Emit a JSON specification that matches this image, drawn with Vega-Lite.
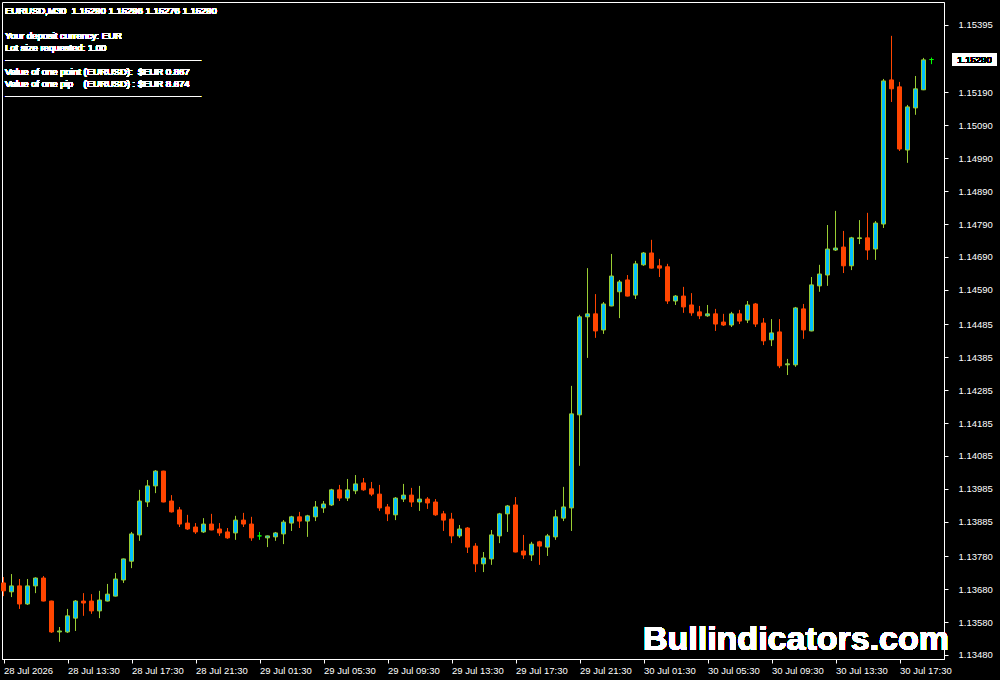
{
  "$schema": "https://vega.github.io/schema/vega-lite/v6.json",
  "width": 942,
  "height": 657,
  "autosize": {"type": "none"},
  "padding": {"left": 2, "top": 2, "right": 56, "bottom": 21},
  "background": "black",
  "config": {
    "view": {"stroke": "white", "strokeWidth": 1},
    "axis": {
      "domainColor": "white", "tickColor": "white", "labelColor": "white",
      "labelFont": "Liberation Sans", "labelFontSize": 9.5, "grid": false,
      "tickSize": 4, "domainWidth": 1, "tickWidth": 1, "title": null,
      "labelOverlap": false
    }
  },
  "data": {"values": [
    {"t":"2026-07-28T09:30Z","o":1.13699,"h":1.13717,"l":1.13659,"c":1.13675},
    {"t":"2026-07-28T10:00Z","o":1.13672,"h":1.13726,"l":1.13656,"c":1.13690},
    {"t":"2026-07-28T10:30Z","o":1.13690,"h":1.13711,"l":1.13620,"c":1.13635},
    {"t":"2026-07-28T11:00Z","o":1.13635,"h":1.13711,"l":1.13632,"c":1.13690},
    {"t":"2026-07-28T11:30Z","o":1.13690,"h":1.13716,"l":1.13668,"c":1.13714},
    {"t":"2026-07-28T12:00Z","o":1.13714,"h":1.13720,"l":1.13643,"c":1.13644},
    {"t":"2026-07-28T12:30Z","o":1.13644,"h":1.13645,"l":1.13547,"c":1.13550},
    {"t":"2026-07-28T13:00Z","o":1.13550,"h":1.13565,"l":1.13520,"c":1.13553},
    {"t":"2026-07-28T13:30Z","o":1.13550,"h":1.13620,"l":1.13547,"c":1.13599},
    {"t":"2026-07-28T14:00Z","o":1.13592,"h":1.13647,"l":1.13553,"c":1.13644},
    {"t":"2026-07-28T14:30Z","o":1.13644,"h":1.13668,"l":1.13599,"c":1.13638},
    {"t":"2026-07-28T15:00Z","o":1.13644,"h":1.13665,"l":1.13605,"c":1.13614},
    {"t":"2026-07-28T15:30Z","o":1.13614,"h":1.13675,"l":1.13592,"c":1.13647},
    {"t":"2026-07-28T16:00Z","o":1.13644,"h":1.13696,"l":1.13643,"c":1.13665},
    {"t":"2026-07-28T16:30Z","o":1.13659,"h":1.13729,"l":1.13658,"c":1.13711},
    {"t":"2026-07-28T17:00Z","o":1.13708,"h":1.13773,"l":1.13699,"c":1.13772},
    {"t":"2026-07-28T17:30Z","o":1.13765,"h":1.13854,"l":1.13744,"c":1.13848},
    {"t":"2026-07-28T18:00Z","o":1.13845,"h":1.13982,"l":1.13827,"c":1.13948},
    {"t":"2026-07-28T18:30Z","o":1.13945,"h":1.14012,"l":1.13930,"c":1.13994},
    {"t":"2026-07-28T19:00Z","o":1.13994,"h":1.14042,"l":1.13972,"c":1.14039},
    {"t":"2026-07-28T19:30Z","o":1.14039,"h":1.14040,"l":1.13944,"c":1.13945},
    {"t":"2026-07-28T20:00Z","o":1.13948,"h":1.13966,"l":1.13913,"c":1.13915},
    {"t":"2026-07-28T20:30Z","o":1.13921,"h":1.13930,"l":1.13869,"c":1.13878},
    {"t":"2026-07-28T21:00Z","o":1.13881,"h":1.13906,"l":1.13860,"c":1.13863},
    {"t":"2026-07-28T21:30Z","o":1.13869,"h":1.13881,"l":1.13848,"c":1.13854},
    {"t":"2026-07-28T22:00Z","o":1.13854,"h":1.13896,"l":1.13851,"c":1.13878},
    {"t":"2026-07-28T22:30Z","o":1.13878,"h":1.13909,"l":1.13859,"c":1.13860},
    {"t":"2026-07-28T23:00Z","o":1.13863,"h":1.13881,"l":1.13842,"c":1.13851},
    {"t":"2026-07-28T23:30Z","o":1.13854,"h":1.13866,"l":1.13833,"c":1.13836},
    {"t":"2026-07-29T00:00Z","o":1.13851,"h":1.13903,"l":1.13830,"c":1.13890},
    {"t":"2026-07-29T00:30Z","o":1.13890,"h":1.13912,"l":1.13869,"c":1.13878},
    {"t":"2026-07-29T01:00Z","o":1.13878,"h":1.13900,"l":1.13827,"c":1.13836},
    {"t":"2026-07-29T01:30Z","o":1.13842,"h":1.13854,"l":1.13830,"c":1.13842},
    {"t":"2026-07-29T02:00Z","o":1.13836,"h":1.13843,"l":1.13808,"c":1.13842},
    {"t":"2026-07-29T02:30Z","o":1.13839,"h":1.13854,"l":1.13827,"c":1.13851},
    {"t":"2026-07-29T03:00Z","o":1.13848,"h":1.13890,"l":1.13817,"c":1.13884},
    {"t":"2026-07-29T03:30Z","o":1.13881,"h":1.13903,"l":1.13857,"c":1.13900},
    {"t":"2026-07-29T04:00Z","o":1.13900,"h":1.13915,"l":1.13866,"c":1.13887},
    {"t":"2026-07-29T04:30Z","o":1.13887,"h":1.13906,"l":1.13839,"c":1.13903},
    {"t":"2026-07-29T05:00Z","o":1.13900,"h":1.13948,"l":1.13887,"c":1.13930},
    {"t":"2026-07-29T05:30Z","o":1.13927,"h":1.13948,"l":1.13912,"c":1.13939},
    {"t":"2026-07-29T06:00Z","o":1.13936,"h":1.13985,"l":1.13933,"c":1.13982},
    {"t":"2026-07-29T06:30Z","o":1.13982,"h":1.13997,"l":1.13948,"c":1.13957},
    {"t":"2026-07-29T07:00Z","o":1.13957,"h":1.14015,"l":1.13948,"c":1.13982},
    {"t":"2026-07-29T07:30Z","o":1.13979,"h":1.14027,"l":1.13969,"c":1.14000},
    {"t":"2026-07-29T08:00Z","o":1.14003,"h":1.14018,"l":1.13979,"c":1.13982},
    {"t":"2026-07-29T08:30Z","o":1.13985,"h":1.14006,"l":1.13963,"c":1.13969},
    {"t":"2026-07-29T09:00Z","o":1.13969,"h":1.13997,"l":1.13918,"c":1.13927},
    {"t":"2026-07-29T09:30Z","o":1.13930,"h":1.13939,"l":1.13887,"c":1.13909},
    {"t":"2026-07-29T10:00Z","o":1.13906,"h":1.13960,"l":1.13890,"c":1.13957},
    {"t":"2026-07-29T10:30Z","o":1.13954,"h":1.14000,"l":1.13945,"c":1.13966},
    {"t":"2026-07-29T11:00Z","o":1.13966,"h":1.13988,"l":1.13930,"c":1.13945},
    {"t":"2026-07-29T11:30Z","o":1.13945,"h":1.13994,"l":1.13918,"c":1.13954},
    {"t":"2026-07-29T12:00Z","o":1.13954,"h":1.13960,"l":1.13924,"c":1.13942},
    {"t":"2026-07-29T12:30Z","o":1.13945,"h":1.13954,"l":1.13903,"c":1.13906},
    {"t":"2026-07-29T13:00Z","o":1.13909,"h":1.13918,"l":1.13857,"c":1.13890},
    {"t":"2026-07-29T13:30Z","o":1.13893,"h":1.13912,"l":1.13820,"c":1.13842},
    {"t":"2026-07-29T14:00Z","o":1.13842,"h":1.13875,"l":1.13836,"c":1.13863},
    {"t":"2026-07-29T14:30Z","o":1.13866,"h":1.13869,"l":1.13790,"c":1.13808},
    {"t":"2026-07-29T15:00Z","o":1.13811,"h":1.13820,"l":1.13732,"c":1.13757},
    {"t":"2026-07-29T15:30Z","o":1.13757,"h":1.13793,"l":1.13732,"c":1.13775},
    {"t":"2026-07-29T16:00Z","o":1.13772,"h":1.13860,"l":1.13754,"c":1.13845},
    {"t":"2026-07-29T16:30Z","o":1.13842,"h":1.13912,"l":1.13820,"c":1.13909},
    {"t":"2026-07-29T17:00Z","o":1.13909,"h":1.13936,"l":1.13854,"c":1.13933},
    {"t":"2026-07-29T17:30Z","o":1.13936,"h":1.13960,"l":1.13792,"c":1.13793},
    {"t":"2026-07-29T18:00Z","o":1.13796,"h":1.13845,"l":1.13772,"c":1.13784},
    {"t":"2026-07-29T18:30Z","o":1.13784,"h":1.13824,"l":1.13766,"c":1.13817},
    {"t":"2026-07-29T19:00Z","o":1.13824,"h":1.13827,"l":1.13754,"c":1.13811},
    {"t":"2026-07-29T19:30Z","o":1.13808,"h":1.13848,"l":1.13781,"c":1.13842},
    {"t":"2026-07-29T20:00Z","o":1.13839,"h":1.13921,"l":1.13830,"c":1.13900},
    {"t":"2026-07-29T20:30Z","o":1.13896,"h":1.13991,"l":1.13887,"c":1.13930},
    {"t":"2026-07-29T21:00Z","o":1.13927,"h":1.14298,"l":1.13857,"c":1.14213},
    {"t":"2026-07-29T21:30Z","o":1.14210,"h":1.14514,"l":1.14055,"c":1.14508},
    {"t":"2026-07-29T22:00Z","o":1.14508,"h":1.14656,"l":1.14383,"c":1.14517},
    {"t":"2026-07-29T22:30Z","o":1.14517,"h":1.14577,"l":1.14444,"c":1.14465},
    {"t":"2026-07-29T23:00Z","o":1.14468,"h":1.14553,"l":1.14456,"c":1.14547},
    {"t":"2026-07-29T23:30Z","o":1.14541,"h":1.14699,"l":1.14540,"c":1.14632},
    {"t":"2026-07-30T00:00Z","o":1.14584,"h":1.14620,"l":1.14504,"c":1.14614},
    {"t":"2026-07-30T00:30Z","o":1.14620,"h":1.14635,"l":1.14570,"c":1.14571},
    {"t":"2026-07-30T01:00Z","o":1.14574,"h":1.14678,"l":1.14562,"c":1.14669},
    {"t":"2026-07-30T01:30Z","o":1.14666,"h":1.14705,"l":1.14663,"c":1.14702},
    {"t":"2026-07-30T02:00Z","o":1.14702,"h":1.14742,"l":1.14655,"c":1.14656},
    {"t":"2026-07-30T02:30Z","o":1.14663,"h":1.14684,"l":1.14629,"c":1.14656},
    {"t":"2026-07-30T03:00Z","o":1.14660,"h":1.14669,"l":1.14547,"c":1.14556},
    {"t":"2026-07-30T03:30Z","o":1.14556,"h":1.14574,"l":1.14544,"c":1.14571},
    {"t":"2026-07-30T04:00Z","o":1.14571,"h":1.14599,"l":1.14520,"c":1.14538},
    {"t":"2026-07-30T04:30Z","o":1.14544,"h":1.14580,"l":1.14511,"c":1.14520},
    {"t":"2026-07-30T05:00Z","o":1.14523,"h":1.14541,"l":1.14501,"c":1.14511},
    {"t":"2026-07-30T05:30Z","o":1.14511,"h":1.14544,"l":1.14508,"c":1.14517},
    {"t":"2026-07-30T06:00Z","o":1.14517,"h":1.14532,"l":1.14465,"c":1.14486},
    {"t":"2026-07-30T06:30Z","o":1.14492,"h":1.14517,"l":1.14480,"c":1.14483},
    {"t":"2026-07-30T07:00Z","o":1.14483,"h":1.14523,"l":1.14477,"c":1.14517},
    {"t":"2026-07-30T07:30Z","o":1.14517,"h":1.14529,"l":1.14486,"c":1.14495},
    {"t":"2026-07-30T08:00Z","o":1.14498,"h":1.14556,"l":1.14489,"c":1.14544},
    {"t":"2026-07-30T08:30Z","o":1.14547,"h":1.14550,"l":1.14477,"c":1.14486},
    {"t":"2026-07-30T09:00Z","o":1.14489,"h":1.14504,"l":1.14422,"c":1.14435},
    {"t":"2026-07-30T09:30Z","o":1.14438,"h":1.14501,"l":1.14419,"c":1.14459},
    {"t":"2026-07-30T10:00Z","o":1.14462,"h":1.14501,"l":1.14352,"c":1.14359},
    {"t":"2026-07-30T10:30Z","o":1.14362,"h":1.14380,"l":1.14331,"c":1.14365},
    {"t":"2026-07-30T11:00Z","o":1.14362,"h":1.14538,"l":1.14356,"c":1.14535},
    {"t":"2026-07-30T11:30Z","o":1.14532,"h":1.14547,"l":1.14441,"c":1.14468},
    {"t":"2026-07-30T12:00Z","o":1.14465,"h":1.14629,"l":1.14464,"c":1.14605},
    {"t":"2026-07-30T12:30Z","o":1.14602,"h":1.14666,"l":1.14584,"c":1.14638},
    {"t":"2026-07-30T13:00Z","o":1.14635,"h":1.14787,"l":1.14602,"c":1.14714},
    {"t":"2026-07-30T13:30Z","o":1.14711,"h":1.14830,"l":1.14708,"c":1.14717},
    {"t":"2026-07-30T14:00Z","o":1.14720,"h":1.14769,"l":1.14641,"c":1.14663},
    {"t":"2026-07-30T14:30Z","o":1.14663,"h":1.14751,"l":1.14650,"c":1.14748},
    {"t":"2026-07-30T15:00Z","o":1.14746,"h":1.14802,"l":1.14729,"c":1.14748},
    {"t":"2026-07-30T15:30Z","o":1.14748,"h":1.14824,"l":1.14681,"c":1.14711},
    {"t":"2026-07-30T16:00Z","o":1.14714,"h":1.14799,"l":1.14681,"c":1.14793},
    {"t":"2026-07-30T16:30Z","o":1.14790,"h":1.15231,"l":1.14778,"c":1.15225},
    {"t":"2026-07-30T17:00Z","o":1.15228,"h":1.15362,"l":1.15161,"c":1.15201},
    {"t":"2026-07-30T17:30Z","o":1.15207,"h":1.15222,"l":1.15012,"c":1.15018},
    {"t":"2026-07-30T18:00Z","o":1.15015,"h":1.15152,"l":1.14976,"c":1.15146},
    {"t":"2026-07-30T18:30Z","o":1.15143,"h":1.15240,"l":1.15122,"c":1.15201},
    {"t":"2026-07-30T19:00Z","o":1.15198,"h":1.15295,"l":1.15197,"c":1.15289},
    {"t":"2026-07-30T19:30Z","o":1.15290,"h":1.15296,"l":1.15276,"c":1.15290}
  ]},
  "encoding": {
    "x": {
      "field": "t", "type": "temporal",
      "scale": {"type": "utc", "domain": [1785230662500, 1785442612500], "nice": false, "padding": 0},
      "axis": {
        "orient": "bottom",
        "values": [1785231000000, 1785245400000, 1785259800000, 1785274200000, 1785288600000, 1785303000000, 1785317400000, 1785331800000, 1785346200000, 1785360600000, 1785375000000, 1785389400000, 1785403800000, 1785418200000, 1785432600000],
        "tickCount": 50,
        "labelExpr": "time(datum.value) == 1785231000000 ? '28 Jul 2026' : utcFormat(datum.value, '%d %b %H:%M')",
        "labelAlign": "left", "labelBaseline": "top", "labelPadding": 2,
        "labelFlush": false, "labelOverlap": false, "title": null
      }
    }
  },
  "layer": [
    {
      "mark": {"type": "rule", "strokeWidth": 1},
      "encoding": {
        "y": {
          "field": "l", "type": "quantitative",
          "scale": {"domain": [1.134678, 1.154649], "nice": false, "zero": false, "padding": 0},
          "axis": {
            "orient": "right",
            "values": [1.13480, 1.13580, 1.13680, 1.13780, 1.13885, 1.13985, 1.14085, 1.14185, 1.14285, 1.14385, 1.14485, 1.14590, 1.14690, 1.14790, 1.14890, 1.14990, 1.15090, 1.15190, 1.15395],
            "tickCount": 50,
            "format": ".5f", "labelPadding": 10, "labelAlign": "left", "labelBaseline": "middle",
            "labelOverlap": false, "labelFlush": false, "title": null
          }
        },
        "y2": {"field": "h"},
        "color": {
          "condition": [
            {"test": "datum.c > datum.o", "value": "#9ACD32"},
            {"test": "datum.c < datum.o", "value": "#FF4500"}
          ],
          "value": "#00FF00"
        }
      }
    },
    {
      "mark": {"type": "bar", "width": 4, "strokeWidth": 1},
      "encoding": {
        "y": {"field": "o", "type": "quantitative"},
        "y2": {"field": "c"},
        "fill": {
          "condition": [
            {"test": "datum.c > datum.o", "value": "#00BFFF"},
            {"test": "datum.c < datum.o", "value": "#FF4500"}
          ],
          "value": "#00FF00"
        },
        "stroke": {
          "condition": [
            {"test": "datum.c > datum.o", "value": "#9ACD32"},
            {"test": "datum.c < datum.o", "value": "#FF4500"}
          ],
          "value": "#00FF00"
        }
      }
    },
    {
      "mark": {"type": "text", "align": "left", "baseline": "top", "dx": 1.5, "color": "white", "font": "Liberation Sans", "fontSize": 9.5,
        "text": "EURUSD,M30\u00a0 1.15290 1.15296 1.15276 1.15290"},
      "encoding": {
        "x": {"datum": 1785231000000, "type": "temporal"},
        "y": {"datum": 1.154537, "type": "quantitative"}
      }
    },
    {
      "mark": {"type": "text", "align": "left", "baseline": "top", "dx": 1.5, "color": "white", "font": "Liberation Sans", "fontSize": 9.5, "lineHeight": 12,
        "text": [
          "Your deposit currency: EUR",
          "Lot size requested: 1.00",
          "--------------------------------------------------------------",
          "Value of one point (EURUSD):\u00a0 $EUR 0.867",
          "Value of one pip\u00a0\u00a0\u00a0 (EURUSD) : $EUR 8.674",
          "--------------------------------------------------------------"
        ]},
      "encoding": {
        "x": {"datum": 1785231000000, "type": "temporal"},
        "y": {"datum": 1.153777, "type": "quantitative"}
      }
    },
    {
      "mark": {"type": "text", "align": "right", "baseline": "alphabetic", "color": "white", "font": "Liberation Sans", "fontWeight": "bold", "fontSize": 34,
        "text": "Bullindicators.com"},
      "encoding": {
        "x": {"datum": 1785443737500, "type": "temporal"},
        "y": {"datum": 1.134952, "type": "quantitative"}
      }
    },
    {
      "mark": {"type": "rect", "color": "white"},
      "encoding": {
        "x": {"datum": 1785444412500, "type": "temporal"},
        "x2": {"datum": 1785454537500},
        "y": {"datum": 1.153098, "type": "quantitative"},
        "y2": {"datum": 1.152702}
      }
    },
    {
      "mark": {"type": "text", "align": "center", "baseline": "middle", "color": "black", "font": "Liberation Sans", "fontSize": 9.5,
        "text": "1.15290"},
      "encoding": {
        "x": {"datum": 1785449475000, "type": "temporal"},
        "y": {"datum": 1.15290, "type": "quantitative"}
      }
    }
  ]
}
